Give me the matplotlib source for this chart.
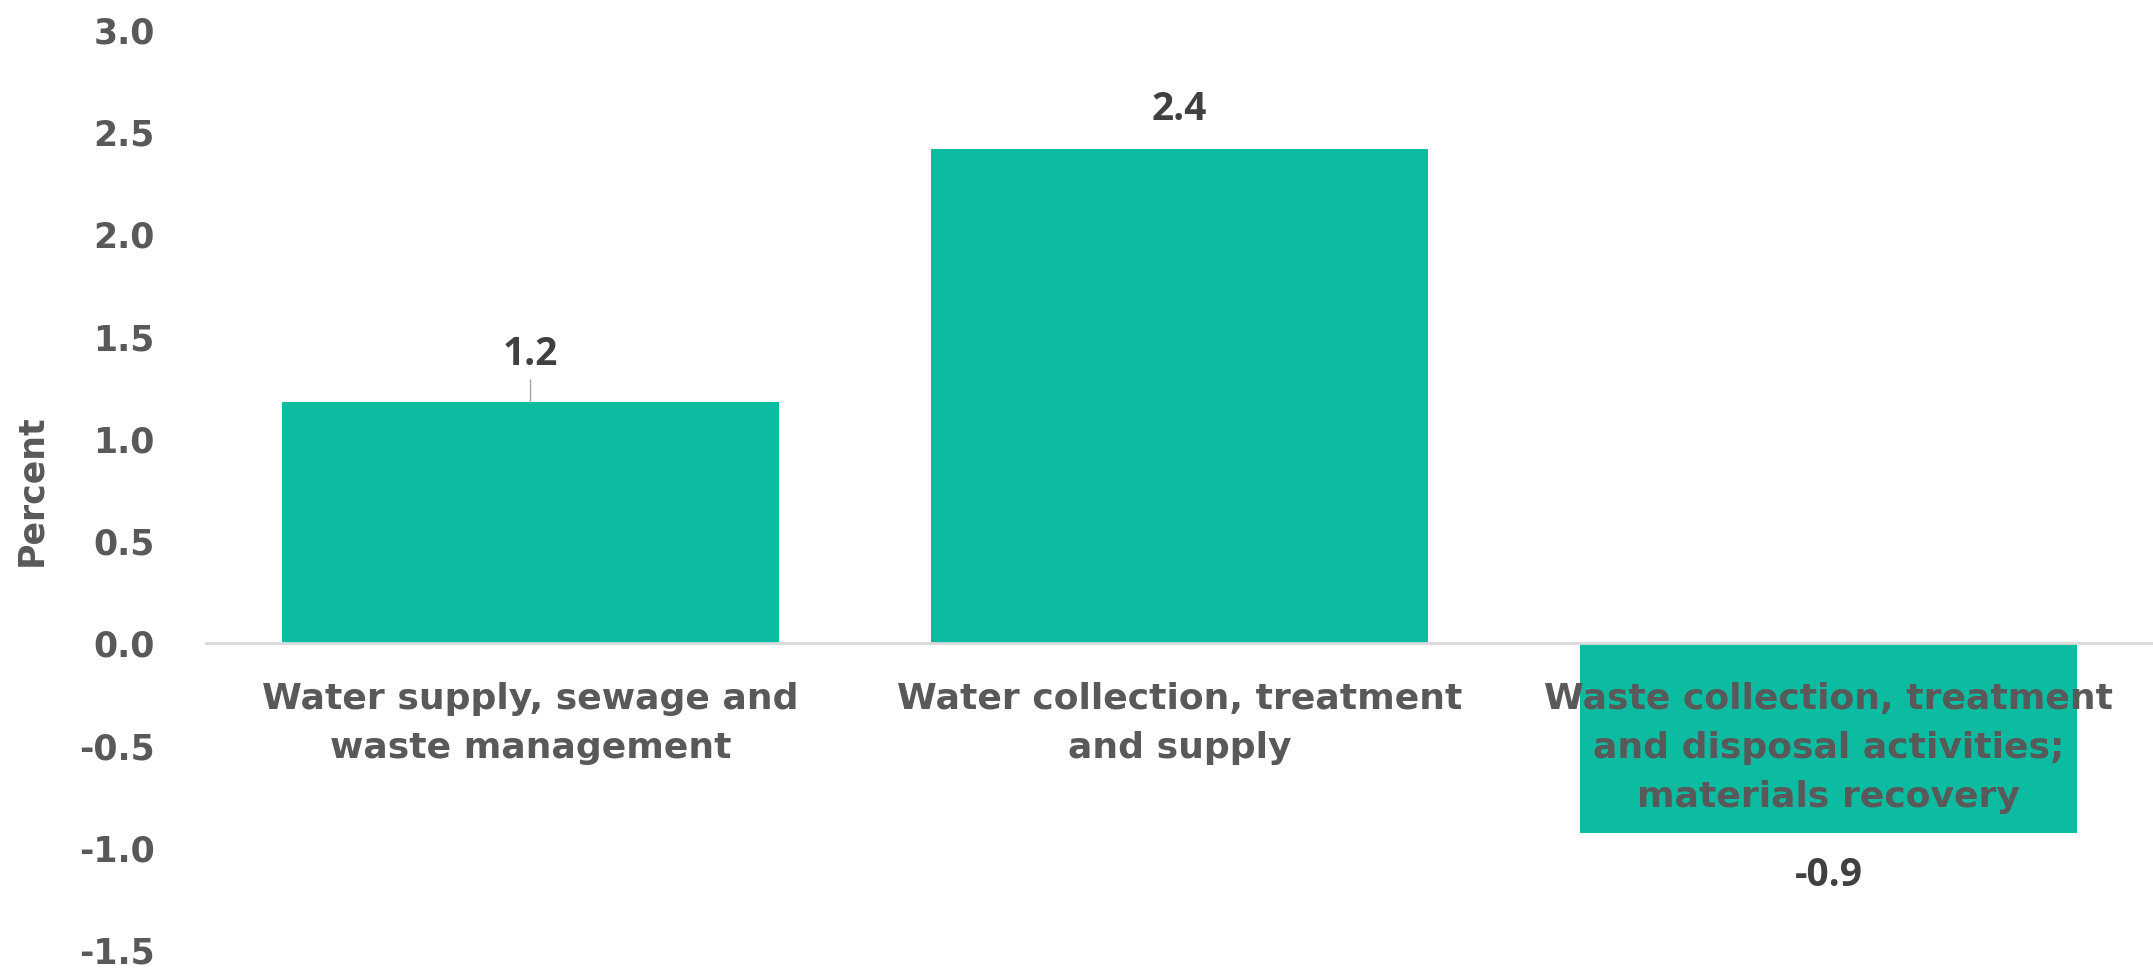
import matplotlib
matplotlib.use("Agg")
import matplotlib.pyplot as plt

categories = [
    "Water supply, sewage and\nwaste management",
    "Water collection, treatment\nand supply",
    "Waste collection, treatment\nand disposal activities;\nmaterials recovery",
]
values = [1.18, 2.42, -0.93]
value_labels = ["1.2", "2.4", "-0.9"]
yticks = [-1.5, -1.0, -0.5, 0.0, 0.5, 1.0, 1.5, 2.0, 2.5, 3.0]

bar_color = "#0BBCA0"
text_gray = "#595959"
label_dark = "#404040"

fig = plt.figure(figsize=(21.53, 9.71), dpi=100)
ax = fig.add_axes([206 / 2153, 21 / 971, 1 - 206 / 2153, 920 / 971])

x = range(len(categories))
bars = ax.bar(x, values, width=0.767, color=bar_color, zorder=1)

ax.set_xlim(-0.5, 2.5)
ax.set_ylim(-1.5, 3.0)
ax.set_yticks(yticks)
ax.set_yticklabels([f"{v:.1f}" for v in yticks])

ax.spines["bottom"].set_position(("data", 0))
ax.spines["bottom"].set_color("#d9d9d9")
ax.spines["bottom"].set_linewidth(2)
for s in ["top", "right", "left"]:
    ax.spines[s].set_visible(False)

ax.set_xticks(list(x))
ax.set_xticklabels(categories, fontsize=26, fontweight="bold", color=text_gray,
                   linespacing=1.55)
ax.tick_params(axis="x", length=0, pad=28)
ax.tick_params(axis="y", length=0, pad=37, labelsize=25, labelcolor=text_gray)
for t in ax.get_yticklabels():
    t.set_fontweight("bold")

ax.set_ylabel("Percent", fontsize=25, fontweight="bold", color=text_gray, labelpad=22)

lab_font = dict(fontsize=28, fontweight="bold", color=label_dark, family="Open Sans")
for i, (v, lab) in enumerate(zip(values, value_labels)):
    if v >= 0:
        if i == 0:
            ax.annotate(lab, xy=(i, v), xytext=(0, 20), textcoords="offset points",
                        ha="center", va="bottom",
                        arrowprops=dict(arrowstyle="-", color="#a6a6a6", lw=1,
                                        shrinkA=2, shrinkB=0), **lab_font)
        else:
            ax.annotate(lab, xy=(i, v), xytext=(0, 14), textcoords="offset points",
                        ha="center", va="bottom", **lab_font)
    else:
        ax.annotate(lab, xy=(i, v), xytext=(0, -16), textcoords="offset points",
                    ha="center", va="top", **lab_font)

fig.savefig("out.png", dpi=100)
